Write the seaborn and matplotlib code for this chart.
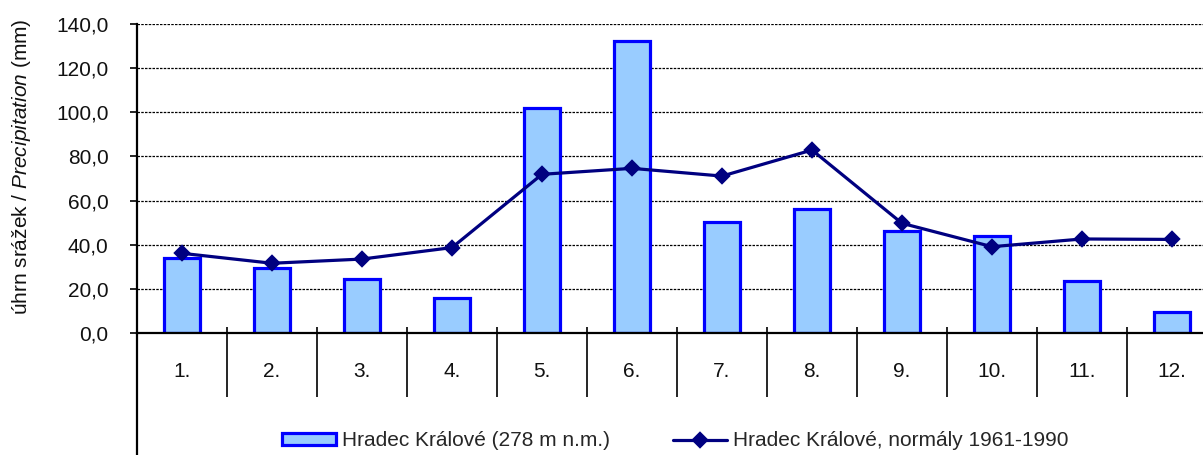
import matplotlib
matplotlib.use("Agg")
import matplotlib.pyplot as plt
import seaborn as sns
import numpy as np
from matplotlib.ticker import FuncFormatter
from matplotlib.lines import Line2D

# monthly precipitation, Hradec Králové
months = ['1.', '2.', '3.', '4.', '5.', '6.', '7.', '8.', '9.', '10.', '11.', '12.']
precip = [33.8, 29.3, 24.3, 16.0, 102.1, 132.4, 50.4, 56.0, 46.4, 44.0, 23.7, 9.7]
normals = [36.1, 31.6, 33.5, 38.7, 71.9, 74.6, 71.1, 82.9, 49.7, 39.1, 42.6, 42.4]
bar_label = 'Hradec Králové (278 m n.m.)'
line_label = 'Hradec Králové, normály 1961-1990'

sns.set_theme(style='white')
plt.rcParams['font.family'] = ['Liberation Sans', 'DejaVu Sans']
plt.rcParams['mathtext.fontset'] = 'custom'
plt.rcParams['mathtext.it'] = 'Liberation Sans:italic'
plt.rcParams['mathtext.rm'] = 'Liberation Sans'

W, H = 1203, 455
fs = 15
fig = plt.figure(figsize=(W / 100, H / 100), dpi=100)
ax = fig.add_axes([137 / W, 122 / H, 1080 / W, 309 / H])

sns.barplot(x=months, y=precip, color='#99CCFF', edgecolor='#0000FF',
            linewidth=2.3, width=0.39, saturation=1, label=bar_label, ax=ax)
sns.pointplot(x=months, y=normals, color='#000080', markers='D',
              markersize=7.5, linewidth=2.3, errorbar=None,
              label=line_label, ax=ax)

ax.set_xlim(-0.5, 11.5)
ax.set_ylim(0, 140)
ax.set_yticks(np.arange(0, 141, 20))
ax.yaxis.set_major_formatter(FuncFormatter(lambda v, p: f'{v:.1f}'.replace('.', ',')))
ax.set_xlabel('')
ax.set_ylabel('')

ax.set_axisbelow(True)
ax.yaxis.grid(True, color='black', linestyle=(0, (2.0, 1.0)), linewidth=0.9)
ax.xaxis.grid(False)

for s in ['top', 'right']:
    ax.spines[s].set_visible(False)
for s in ['left', 'bottom']:
    ax.spines[s].set_color('black')
    ax.spines[s].set_linewidth(1.6)

ax.tick_params(axis='y', direction='out', length=5, width=1.2, color='black',
               pad=15.5, labelsize=fs, left=True)
ax.tick_params(axis='x', length=0, pad=21, labelsize=fs, labelcolor='#111111')
ax.tick_params(axis='y', labelcolor='#111111')

# left axis line runs on down through the category area
ax.add_line(Line2D([0, 0], [-122 / 309, 0], transform=ax.transAxes,
                   clip_on=False, color='black', lw=1.6))
# category separators
bounds = np.arange(len(months)) + 0.5
ax.vlines(bounds, -64 / 309, 6 / 309, transform=ax.get_xaxis_transform(),
          clip_on=False, color='black', lw=1.2)

fig.text(22 / W, 1 - 167 / H, 'úhrn srážek / $\\mathit{Precipitation}$ (mm)',
         rotation=90, ha='center', va='center', fontsize=fs, color='#111111')

handles, labels = ax.get_legend_handles_labels()
order = [labels.index(bar_label), labels.index(line_label)]
ax.legend([handles[i] for i in order], [labels[i] for i in order],
          loc='center', bbox_to_anchor=(675 / W, 1 - 441 / H),
          bbox_transform=fig.transFigure, ncol=2, frameon=False, fontsize=fs,
          handlelength=2.6, handleheight=0.55, handletextpad=0.3,
          columnspacing=3.0, borderpad=0, borderaxespad=0)

fig.savefig('out.png', dpi=100)
